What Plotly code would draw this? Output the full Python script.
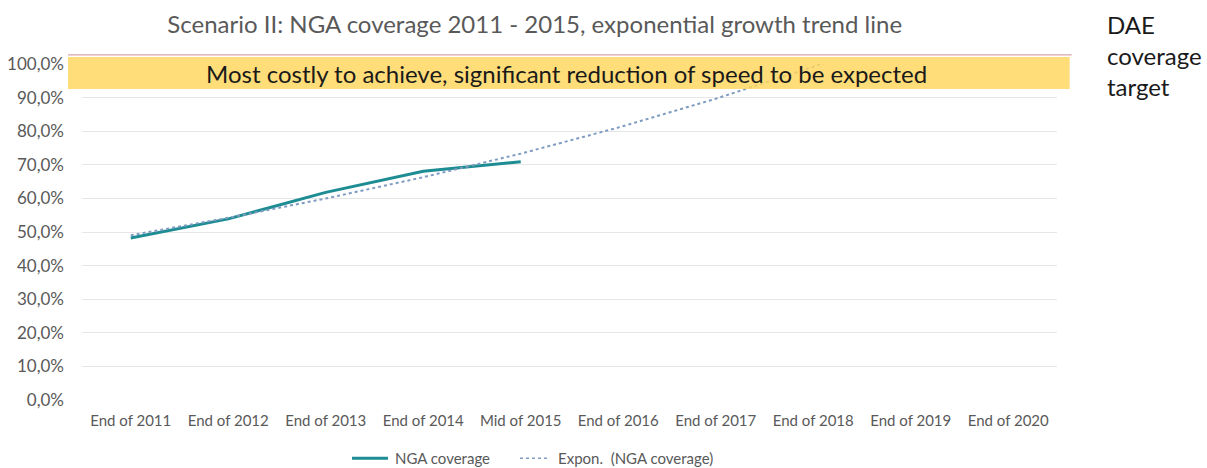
import numpy as np
import plotly.graph_objects as go

# Period labels on the category axis
periods = ["End of 2011", "End of 2012", "End of 2013", "End of 2014", "Mid of 2015",
           "End of 2016", "End of 2017", "End of 2018", "End of 2019", "End of 2020"]

# Observed NGA coverage (share of households)
nga_coverage = [0.482, 0.539, 0.618, 0.681, 0.709]

# Exponential trend fitted on the observed points, extended over all periods
obs_idx = np.arange(1, len(nga_coverage) + 1)
b, ln_a = np.polyfit(obs_idx, np.log(nga_coverage), 1)
all_idx = np.arange(1, len(periods) + 1)
trend = np.exp(ln_a + b * all_idx)

FONT = "Lato"
TEAL = "#1E8C93"
TREND = "#7F9CC0"
GREY = "#595959"

fig = go.Figure()
fig.add_trace(go.Scatter(
    x=periods[:len(nga_coverage)], y=nga_coverage, mode="lines",
    name="NGA coverage", line=dict(color=TEAL, width=3), showlegend=False,
))
fig.add_trace(go.Scatter(
    x=periods, y=trend, mode="lines",
    name="Expon.  (NGA coverage)", line=dict(color=TREND, width=2, dash="dot"),
    showlegend=False,
))

# Plot area spans x = 82 .. 1057 px, y = 64 .. 400 px
# Target zone band and the DAE coverage target line
fig.add_shape(type="rect", xref="paper", yref="paper",
              x0=-0.0144, x1=1.013, y0=0.9256, y1=1.021,
              fillcolor="rgba(255,214,92,0.82)", line=dict(width=0), layer="above")
fig.add_shape(type="line", xref="paper", yref="paper",
              x0=-0.0144, x1=1.015, y0=1.027, y1=1.027,
              line=dict(color="#D9A3AC", width=1.2), layer="above")
fig.add_annotation(xref="paper", yref="paper", x=0.497, y=0.973,
                   text="Most costly to achieve, significant reduction of speed to be expected",
                   showarrow=False, font=dict(family=FONT, size=24, color="#1a1a1a"),
                   xanchor="center", yanchor="middle")
fig.add_annotation(xref="paper", yref="paper", x=1.049, y=1.024,
                   text="DAE<br>coverage<br>target", showarrow=False, align="left",
                   font=dict(family=FONT, size=24, color="#1a1a1a"),
                   xanchor="left", yanchor="middle")

# Legend below the axis: line samples with their labels
LEG_Y = -0.173
legend_items = [
    (dict(color=TEAL, width=3), (0.2769, 0.3138), 0.3190, "NGA coverage"),
    (dict(color=TREND, width=1.5, dash="dot"), (0.4492, 0.4800), 0.4862, "Expon.  (NGA coverage)"),
]
for line_style, (lx0, lx1), tx, label in legend_items:
    fig.add_shape(type="line", xref="paper", yref="paper",
                  x0=lx0, x1=lx1, y0=LEG_Y, y1=LEG_Y, line=line_style)
    fig.add_annotation(xref="paper", yref="paper", x=tx, y=LEG_Y, text=label,
                       showarrow=False, xanchor="left", yanchor="middle",
                       font=dict(family=FONT, size=15, color=GREY))

fig.update_layout(
    width=1207, height=468,
    margin=dict(l=82, r=150, t=64, b=68, autoexpand=False),
    paper_bgcolor="white", plot_bgcolor="white",
    separators=",.",
    title=dict(text="Scenario II: NGA coverage 2011 - 2015, exponential growth trend line",
               x=0.443, xanchor="center", y=0.948, yanchor="middle",
               font=dict(family=FONT, size=24, color=GREY)),
    font=dict(family=FONT, color=GREY),
    showlegend=False,
    xaxis=dict(type="category", showgrid=False, showline=False, zeroline=False,
               ticks="", ticklabelstandoff=10, automargin=False,
               tickfont=dict(family=FONT, size=15, color=GREY),
               range=[-0.5, len(periods) - 0.5]),
    yaxis=dict(range=[0, 1.0], dtick=0.1, tickformat=".1%", showgrid=True,
               gridcolor="#E6E6E6", gridwidth=1, zeroline=False, showline=False,
               ticks="", ticklabelstandoff=17, automargin=False,
               tickfont=dict(family=FONT, size=17, color=GREY)),
)

fig.write_html("out.html")
